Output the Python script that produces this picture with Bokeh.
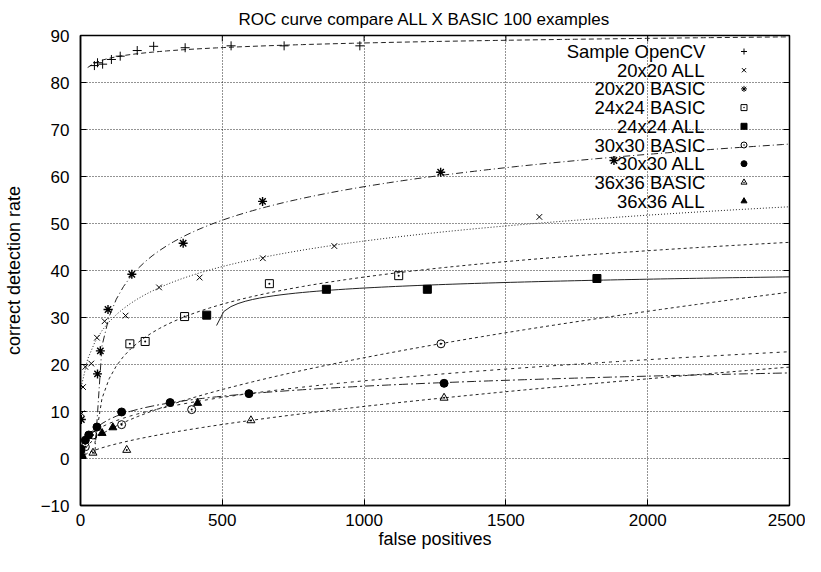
import numpy as np
from bokeh.plotting import figure
from bokeh.models import Range1d, FixedTicker
from bokeh.core.properties import value
from bokeh.embed import file_html
from bokeh.resources import INLINE

# ---------------- data ----------------
x_ticks = [0, 500, 1000, 1500, 2000, 2500]
y_ticks = [-10, 0, 10, 20, 30, 40, 50, 60, 70, 80, 90]

labels = ["Sample OpenCV", "20x20 ALL", "20x20 BASIC", "24x24 BASIC", "24x24 ALL",
          "30x30 BASIC", "30x30 ALL", "36x36 BASIC", "36x36 ALL"]

opencv_x = [49, 60, 78, 109, 140, 200, 258, 369, 531, 718, 985]
opencv_y = [83.6, 84.2, 83.9, 84.9, 85.6, 86.8, 87.7, 87.4, 87.8, 87.8, 87.8]

all20_x = [4, 9, 17, 38, 58, 85, 159, 277, 420, 643, 895, 1618]
all20_y = [9.6, 15.2, 19.5, 20.2, 25.7, 29.2, 30.4, 36.4, 38.5, 42.6, 45.2, 51.4]

basic20_x = [3, 60, 70, 97, 181, 362, 642, 1270, 1881]
basic20_y = [8.3, 18.0, 22.9, 31.7, 39.2, 45.8, 54.7, 60.9, 63.4]

basic24_x = [174, 228, 367, 666, 1122]
basic24_y = [24.4, 24.9, 30.2, 37.2, 38.9]

all24_x = [445, 867, 1223, 1821]
all24_y = [30.5, 36.0, 36.0, 38.3]

basic30_x = [2, 17, 44, 145, 392, 1271]
basic30_y = [1.0, 2.5, 5.0, 7.2, 10.4, 24.4]

all30_x = [2, 17, 29, 58, 145, 316, 594, 1282]
all30_y = [2.0, 3.9, 5.0, 6.7, 9.9, 11.9, 13.8, 16.0]

basic36_x = [4, 44, 163, 601, 1282]
basic36_y = [0.5, 1.2, 1.8, 8.1, 12.9]

all36_x = [6, 76, 114, 413]
all36_y = [0.7, 5.4, 6.6, 11.8]

# fitted curves (gnuplot fits): "log": a*ln(x-c)+b ; "pow": a*(x-c)**p + b
fit_kind = ["log", "log", "log", "log", "log", "pow", "log", "pow", "pow"]
fit_a = [1.42, 8.06, 9.58, 7.85, 1.768, 0.49, 3.08, 0.1594, 1.504]
fit_b = [78.6, -9.57, -7.87, -15.3, 25.19, 0.0, -5.89, 0.0, 0.0]
fit_c = [0, -20, 48, 40, 474, 0, 0, 0, 0]
fit_p = [0, 0, 0, 0, 0, 0.547, 0, 0.614, 0.347]

# ---------------- styles ----------------
series = [
    (opencv_x, opencv_y, "cross"),
    (all20_x, all20_y, "x"),
    (basic20_x, basic20_y, "asterisk"),
    (basic24_x, basic24_y, "square_dot"),
    (all24_x, all24_y, "square"),
    (basic30_x, basic30_y, "circle_dot"),
    (all30_x, all30_y, "circle"),
    (basic36_x, basic36_y, "triangle_dot"),
    (all36_x, all36_y, "triangle"),
]
filled = {"square", "circle", "triangle"}
dashes = ["5 3", "1 2", "7 3 1 3", "3 3", "solid", "3 3", "9 3 2 3", "3 3", "3 4"]
msize = {"cross": 9, "x": 8, "asterisk": 9, "square_dot": 8, "square": 8,
         "circle_dot": 8, "circle": 8, "triangle_dot": 8, "triangle": 8}
mwidth = {"asterisk": 1.4}

FONT = "Liberation Sans"
FS = "17px"

W, H = 805, 556
BL, BR, BT, BB = 72, 16, 35, 51
FW = W - BL - BR
FH = H - BT - BB
p = figure(width=W, height=H, output_backend="svg", toolbar_location=None,
           x_range=Range1d(0, 2500), y_range=Range1d(-10, 90),
           min_border_left=BL, min_border_right=BR, min_border_top=BT, min_border_bottom=BB,
           background_fill_color="white", border_fill_color="white")

p.title.text = "ROC curve compare ALL X BASIC 100 examples"
p.title.align = "left"
p.title.offset = 158
p.title.text_font = FONT
p.title.text_font_size = "17px"
p.title.text_font_style = "normal"
p.title.text_color = "black"
p.title.standoff = 13

p.outline_line_color = "black"
p.outline_line_width = 1.5

for ax in (p.xaxis[0], p.yaxis[0]):
    ax.major_tick_in = 6
    ax.major_tick_out = 0
    ax.minor_tick_in = 0
    ax.minor_tick_out = 0
    ax.axis_line_color = "black"
    ax.axis_line_width = 1.5
    ax.major_tick_line_color = "black"
    ax.major_label_text_font = FONT
    ax.major_label_text_font_size = FS
    ax.major_label_text_color = "black"
    ax.axis_label_text_font = FONT
    ax.axis_label_text_font_size = "18px"
    ax.axis_label_text_font_style = "normal"
    ax.axis_label_text_color = "black"

p.xaxis.ticker = FixedTicker(ticks=x_ticks)
p.yaxis.ticker = FixedTicker(ticks=y_ticks)
p.xaxis.axis_label = "false positives"
p.yaxis.axis_label = "correct detection rate"
p.xaxis.major_label_standoff = 8
p.yaxis.major_label_standoff = 11
p.xaxis.axis_label_standoff = 0
p.yaxis.axis_label_standoff = 14

p.xgrid.ticker = FixedTicker(ticks=x_ticks)
p.ygrid.ticker = FixedTicker(ticks=y_ticks)
for g in (p.xgrid[0], p.ygrid[0]):
    g.grid_line_color = "black"
    g.grid_line_dash = "1 2"
    g.grid_line_width = 1
    g.grid_line_alpha = 0.85

x0, x1 = p.x_range.start, p.x_range.end
y0, y1 = p.y_range.start, p.y_range.end

# mirrored inward ticks on the right and top borders (gnuplot "mirror")
tlen_x = 6.0 / FW * (x1 - x0)
tlen_y = 6.0 / FH * (y1 - y0)
p.segment(x0=[x1] * len(y_ticks), y0=y_ticks, x1=[x1 - tlen_x] * len(y_ticks), y1=y_ticks,
          line_color="black", line_width=1)
p.segment(x0=x_ticks, y0=[y1] * len(x_ticks), x1=x_ticks, y1=[y1 - tlen_y] * len(x_ticks),
          line_color="black", line_width=1)

# fitted curves, sampled like gnuplot (100 samples over the x range)
xs = np.linspace(0, 2500, 100)
for i in range(len(labels)):
    with np.errstate(all="ignore"):
        d = xs - fit_c[i]
        if fit_kind[i] == "log":
            ys = fit_a[i] * np.log(d) + fit_b[i]
        else:
            ys = fit_a[i] * np.power(d, fit_p[i]) + fit_b[i]
    ok = np.isfinite(ys) & (d >= 0)
    p.line(xs[ok], ys[ok], line_color="#222222", line_width=1, line_dash=dashes[i])

# data points
for (sx, sy, mk) in series:
    fc = "black" if mk in filled else None
    p.scatter(sx, sy, marker=mk, size=msize[mk], line_color="black", fill_color=fc,
              line_width=mwidth.get(mk, 1))

# key (gnuplot style: text right-aligned, symbol to its right)
def px_to_x(px):
    return x0 + (px - (8 + BL)) / FW * (x1 - x0)
def py_to_y(py):
    return y1 - (py - (8 + BT)) / FH * (y1 - y0)

key_text_x = px_to_x(712)
key_mark_x = px_to_x(751)
key_rows = [py_to_y(59 + 18.7 * i) for i in range(len(labels))]
p.text(x=[key_text_x] * len(labels), y=key_rows, text=labels,
       text_align="right", text_baseline="middle",
       text_font=value(FONT), text_font_size="18.5px", text_color="black")
for i, (sx, sy, mk) in enumerate(series):
    fc = "black" if mk in filled else None
    p.scatter([key_mark_x], [key_rows[i]], marker=mk, size=6, line_color="black",
              fill_color=fc, line_width=1)

open("out.html", "w").write(file_html(p, INLINE))
